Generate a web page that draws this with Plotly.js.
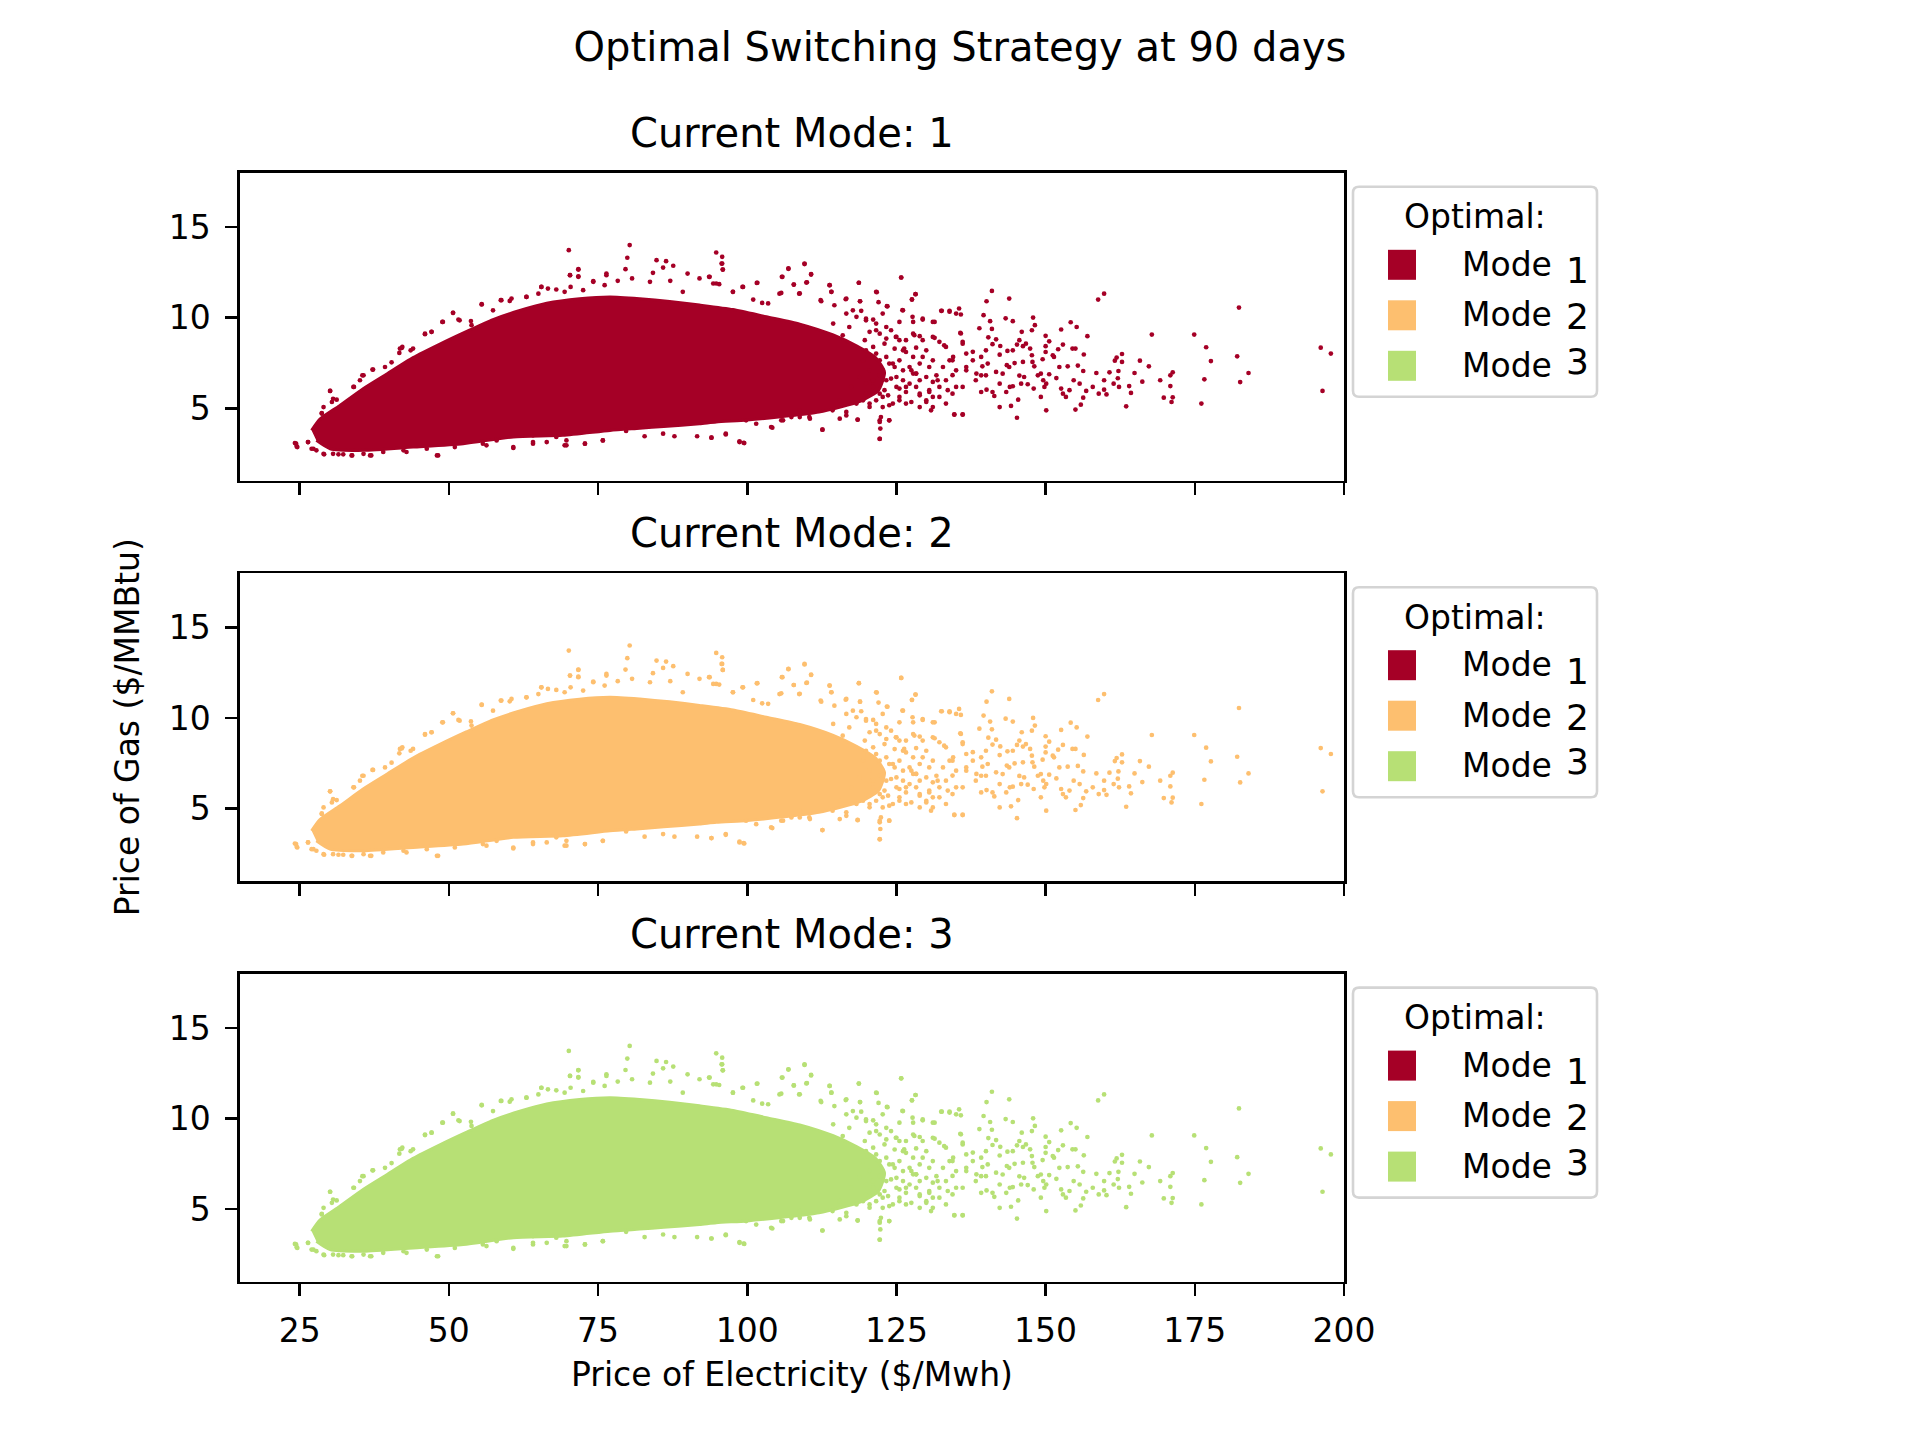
<!DOCTYPE html>
<html>
<head>
<meta charset="utf-8">
<script src="https://cdn.plot.ly/plotly-3.0.1.min.js"></script>
<style>html,body{margin:0;padding:0;background:#fff;}#chart{width:1920px;height:1440px;}</style>
</head>
<body>
<div id="chart"></div>
<script>
// ---------- data ----------
const modeNames = ['1', '2', '3'];
const modeColors = ['#a50026', '#fdbf6f', '#b7e075'];
const subplotTitles = ['Current Mode: 1', 'Current Mode: 2', 'Current Mode: 3'];
const xTickVals = [25, 50, 75, 100, 125, 150, 175, 200];
const yTickVals = [5, 10, 15];

// outline of the visually solid core of the price cloud ($/Mwh, $/MMBtu)
const coreElec = [27.0, 28.4, 31.7, 35.7, 39.6, 44.0, 48.5, 53.0, 57.4, 61.9, 66.4, 71.9, 77.0, 82.0, 87.0, 92.0, 97.6, 103.2, 108.8, 114.4, 118.3, 121.5, 123.0,
  122.0, 119.0, 112.0, 106.0, 100.0, 94.8, 92.0, 86.0, 82.0, 77.0, 69.1, 60.8, 52.4, 44.0, 35.7, 30.1, 27.8];
const coreGas = [3.78, 4.40, 5.15, 6.10, 6.90, 7.80, 8.55, 9.25, 9.90, 10.40, 10.80, 11.05, 11.15, 11.05, 10.90, 10.70, 10.45, 10.05, 9.65, 9.05, 8.45, 7.80, 7.00,
  6.00, 5.40, 4.80, 4.55, 4.35, 4.25, 4.15, 4.00, 3.90, 3.78, 3.51, 3.42, 3.05, 2.86, 2.68, 2.77, 3.23];

// individual scattered simulations outside the solid core
const pointElec = [
  24.4, 24.6, 26.4, 27.3, 27.8, 29.1, 30.1, 30.4, 28.7, 31.2, 31.5, 32.3, 33.8, 34.1, 35.1, 35.7, 37.2, 40.4, 41.7, 42.1,
  43.6, 46.0, 47.1, 49.0, 50.7, 51.6, 53.7, 55.5, 58.8, 60.5, 63.0, 65.5, 66.6, 70.1, 70.3, 71.7, 71.7, 70.4, 72.5, 74.2,
  60.8, 48.0, 37.0, 35.7, 39.0, 42.4, 46.3, 55.7, 64.1, 69.4, 69.7, 68.0, 72.8, 64.1, 58.0,
  80.3, 79.9, 79.6, 94.8, 95.8, 95.8, 95.9, 84.8, 86.4, 85.9, 87.6, 84.2, 90.0, 93.7, 109.6, 106.9, 110.7, 105.8, 110.0, 107.8,
  101.7, 113.8, 118.7, 125.8, 121.6, 128.2, 127.6, 135.5, 133.9, 132.6, 135.8, 129.4, 131.4, 127.7, 126.0, 123.4, 122.0, 118.9, 116.6, 114.1,
  112.3, 108.8, 105.7, 103.5, 102.5, 101.0, 99.3, 97.6, 94.8, 92.0, 87.1, 80.7, 76.4, 78.3, 83.7, 89.2,
  119.9, 121.6, 123.3, 124.9, 126.3, 128.0, 129.4, 131.1, 133.0, 134.4, 135.8, 136.1, 136.7, 137.8, 138.3, 136.1, 134.4, 133.6, 131.9, 130.5,
  130.0, 130.8, 128.9, 127.5, 126.6, 125.5, 123.8, 122.7, 122.2, 122.3, 122.2, 123.8, 120.5, 118.5, 116.6, 115.5, 114.3, 112.6, 110.4, 108.8,
  107.4, 105.7, 104.2, 101.5, 99.8, 98.7, 99.4, 96.4, 94.0, 91.6, 87.8, 85.9, 82.8, 79.7, 75.8, 136.1, 134.7, 128.3, 124.4, 121.0,
  158.8, 159.8, 182.4, 196.1, 197.8, 196.4, 167.8, 174.9, 176.9, 177.7, 182.1, 184.0, 182.6, 176.6, 176.1, 171.1, 171.3, 169.8, 170.9, 170.9,
  171.3, 169.2, 167.3, 165.8, 166.2, 164.9, 164.3, 164.0, 163.5, 162.8, 162.8, 161.9, 161.6, 162.2, 162.1, 161.4, 162.3, 160.7, 159.8, 160.2,
  158.9, 159.8, 158.5, 157.9, 157.0, 156.4, 156.3, 156.8, 156.3, 155.9, 155.0, 155.4, 155.0, 154.5, 155.2, 154.2, 152.6, 152.9, 152.1, 151.4,
  150.6, 150.0, 150.0, 150.0, 149.5, 148.2, 147.9, 147.7, 146.0, 145.6, 144.5, 143.3, 140.7, 141.0, 139.6, 138.9, 140.4, 141.7, 142.4, 143.6,
  144.5, 145.2, 146.2, 146.7, 147.4, 147.7, 147.8, 146.2, 144.8, 143.9, 142.3, 141.1, 140.0, 139.2, 140.3, 139.4, 141.7, 140.0, 139.2, 142.8,
  143.5, 145.6, 146.4, 148.1, 148.7, 149.2, 149.6, 150.1, 150.6, 151.8, 152.6, 152.9, 153.4, 154.0, 154.7, 155.7, 152.3, 151.2, 153.7, 150.1,
  149.8, 149.2, 148.0, 147.0, 145.9, 144.5, 144.0, 143.4, 142.3, 141.1, 141.4, 140.1, 139.2, 142.3, 144.2, 145.4, 145.2,
  141.0, 140.1, 143.9,
  95.7, 95.9, 106.9, 109.6, 110.7, 105.9, 107.8, 109.9, 113.8, 118.7, 125.8, 121.7, 128.2, 127.6, 114.1, 112.4, 108.7, 105.4, 101.6, 99.2,
  97.6, 95.3, 94.3, 93.6, 118.9, 116.5, 114.6, 117.7, 119.1, 121.1, 122.7, 123.5, 126.1, 125.5, 127.8, 129.4, 131.1, 132.5, 133.9, 135.0,
  135.7, 131.4, 128.9, 126.6, 125.0, 124.1, 122.2, 120.5, 123.0, 124.7, 126.6, 128.3, 130.0, 132.2, 133.3, 134.5, 136.1, 136.7, 137.8, 131.1,
  128.9, 127.2, 125.5, 123.8, 122.2, 120.5, 122.2, 124.1, 126.1, 127.8, 130.0, 131.7, 133.3, 135.0, 136.7, 138.4, 132.2, 130.5, 128.3, 126.6,
  125.0, 123.0, 121.1, 119.9, 121.6, 123.6, 125.5, 127.5, 128.9, 131.1, 133.3, 134.7, 136.1, 122.4, 122.2, 122.2, 123.8, 118.5, 116.6, 115.5,
  112.6, 110.5, 108.8, 106.0, 104.0, 98.7, 99.5, 96.4, 94.0, 118.3, 117.4, 118.8, 119.9, 119.7, 117.1, 116.0, 114.4,
  30.1, 30.6, 28.7, 29.0, 34.0, 35.5, 37.3, 39.3, 41.8, 42.2, 44.0, 46.0, 47.1, 48.9, 50.7, 51.8, 53.8, 55.5, 57.4, 58.7,
  60.2, 63.0, 65.0, 65.5, 68.0, 69.4, 70.3, 71.7, 71.7, 74.2, 76.1, 76.4, 24.2, 24.5, 26.4, 27.0, 29.0, 30.6, 33.7, 36.8,
  42.9, 48.2, 51.0, 60.8, 64.1, 69.7, 72.8, 75.8, 66.4, 56.3,
  119.4, 120.2, 121.1, 121.6, 123.3, 124.7, 126.1, 128.3, 122.7, 123.3, 125.0, 121.1, 119.9, 119.4, 120.5, 122.7, 124.4, 126.6, 128.9, 131.1,
  130.0, 132.2, 134.4, 135.0, 131.1, 128.9, 127.2, 125.5, 122.2, 133.9, 132.8, 130.5, 129.4, 127.8, 126.1, 125.5, 127.8, 123.3, 121.6, 119.9,
  118.3, 116.6
];
const pointGas = [
  3.05, 2.86, 3.14, 2.77, 2.68, 2.46, 5.96, 5.35, 4.71, 5.48, 2.46, 2.46, 2.40, 6.18, 6.55, 6.82, 7.14, 7.54, 8.06, 8.33,
  8.20, 9.12, 9.22, 9.77, 10.27, 9.90, 9.82, 10.75, 10.97, 11.06, 11.15, 11.70, 11.61, 13.73, 12.35, 12.68, 12.26, 11.70, 11.52, 12.02,
  2.81, 2.40, 2.40, 2.49, 2.59, 2.68, 2.77, 3.05, 3.05, 2.96, 3.23, 3.42, 3.05, 3.51, 3.23,
  14.01, 13.31, 12.68, 13.60, 13.36, 12.99, 12.66, 13.18, 13.12, 12.77, 12.87, 12.48, 12.44, 12.26, 12.99, 12.70, 12.41, 12.26, 11.96, 11.83,
  11.93, 11.80, 11.93, 12.22, 11.43, 11.30, 11.01, 10.51, 10.33, 10.38, 10.18, 9.90, 9.77, 10.05, 10.42, 10.64, 10.86, 10.91, 11.06, 11.43,
  10.97, 11.34, 11.37, 10.79, 10.82, 11.00, 11.70, 11.43, 11.89, 12.17, 12.04, 12.17, 12.44, 12.04, 11.98, 11.43,
  9.86, 9.31, 8.85, 8.94, 8.30, 9.04, 8.76, 8.94, 8.48, 7.65, 9.13, 8.57, 7.10, 8.12, 6.55, 6.18, 6.83, 6.00, 6.55, 6.00,
  5.35, 4.89, 5.81, 7.10, 6.18, 5.44, 5.17, 5.63, 4.34, 3.88, 3.31, 4.34, 5.08, 4.38, 4.80, 5.44, 4.89, 3.82, 4.52, 4.89,
  4.52, 4.34, 3.93, 4.15, 4.34, 3.18, 3.10, 3.60, 3.38, 3.46, 3.46, 3.60, 3.46, 3.75, 3.23, 4.65, 4.65, 6.92, 7.47, 6.55,
  11.00, 11.33, 10.56, 8.35, 8.02, 5.96, 9.07, 9.07, 8.37, 7.61, 7.87, 6.95, 6.45, 6.60, 5.26, 5.35, 5.61, 5.59, 6.23, 6.82,
  6.99, 6.55, 7.32, 7.63, 6.47, 6.95, 5.85, 6.23, 5.11, 8.00, 7.56, 7.80, 7.63, 7.06, 6.66, 6.36, 6.18, 6.99, 6.55, 5.77,
  5.81, 6.03, 6.95, 6.18, 8.98, 7.97, 7.06, 5.96, 5.59, 5.20, 4.93, 7.36, 8.30, 8.30, 9.49, 9.75, 9.35, 8.52, 8.26, 7.84,
  8.70, 9.00, 8.43, 8.11, 7.71, 9.59, 10.01, 9.31, 9.22, 8.76, 9.81, 9.97, 9.81, 9.38, 10.14, 9.42, 8.92, 8.81, 8.44, 8.17,
  8.20, 8.52, 8.43, 8.57, 8.30, 7.93, 7.56, 7.56, 7.50, 7.28, 7.96, 8.54, 8.20, 7.84, 7.47, 7.32, 7.01, 6.82, 6.82, 6.91,
  7.38, 6.81, 6.73, 7.32, 6.82, 6.91, 6.55, 6.36, 6.88, 6.67, 6.09, 5.81, 5.63, 6.00, 6.55, 6.36, 7.28, 7.93, 7.32, 4.89,
  6.18, 5.63, 6.09, 6.33, 6.36, 6.22, 6.18, 5.90, 6.36, 5.90, 5.68, 6.03, 5.90, 5.07, 5.13, 5.48, 4.48,
  11.48, 10.91, 11.06,
  12.99, 12.66, 12.72, 12.96, 12.38, 12.26, 11.83, 11.94, 11.80, 11.93, 12.22, 11.41, 11.30, 11.00, 11.43, 10.91, 11.33, 11.33, 11.92, 11.70,
  11.43, 11.85, 11.89, 12.26, 10.91, 11.02, 10.69, 10.41, 10.38, 9.90, 10.23, 10.63, 10.41, 9.77, 9.77, 9.95, 9.77, 10.38, 10.38, 10.23,
  9.16, 8.89, 8.98, 8.76, 8.94, 9.31, 9.12, 9.22, 8.57, 8.29, 8.11, 8.35, 8.20, 8.67, 8.39, 7.84, 8.67, 8.02, 7.65, 7.65,
  7.47, 7.28, 7.65, 7.47, 7.65, 7.10, 6.82, 6.64, 6.55, 6.92, 6.73, 6.82, 6.55, 7.10, 7.28, 6.92, 6.18, 5.90, 6.18, 5.90,
  6.18, 6.00, 6.18, 5.81, 5.44, 5.72, 5.63, 5.35, 5.72, 5.63, 5.26, 4.67, 4.67, 4.52, 4.25, 3.32, 4.34, 4.37, 4.61, 4.43,
  3.82, 4.43, 4.52, 4.34, 3.97, 3.14, 3.08, 3.56, 3.38, 5.26, 6.18, 6.73, 8.20, 8.76, 9.49, 9.03, 9.68,
  5.96, 5.53, 4.74, 5.07, 6.18, 6.82, 7.14, 7.28, 8.30, 8.39, 8.30, 9.09, 9.22, 9.77, 10.27, 9.86, 9.59, 10.73, 10.41, 10.97,
  10.93, 11.15, 11.33, 11.70, 11.56, 11.43, 12.35, 12.66, 12.29, 11.98, 11.80, 12.35, 3.08, 2.90, 3.14, 2.77, 2.49, 2.49, 2.40, 2.40,
  2.59, 2.40, 2.86, 2.86, 3.14, 2.96, 3.05, 3.23, 3.14, 2.96,
  7.65, 7.93, 8.39, 8.02, 7.84, 7.28, 7.10, 6.92, 7.10, 6.55, 6.73, 6.55, 6.36, 5.44, 5.26, 5.07, 5.26, 5.26, 5.07, 5.07,
  5.44, 5.63, 5.81, 6.18, 6.46, 6.55, 6.36, 6.09, 5.81, 7.65, 7.28, 7.28, 7.84, 7.84, 8.20, 8.76, 9.12, 9.49, 9.68, 9.95,
  10.05, 10.23
];

// ---------- layout geometry ----------
const W = 1920, H = 1440;
const FONT = 'DejaVu Sans, Verdana, sans-serif';
const xDom = [0.125, 0.7];
const panelH = 0.77 / 3.6, gap = panelH * 0.3;
const yDoms = [
  [0.88 - panelH, 0.88],
  [0.88 - 2 * panelH - gap, 0.88 - panelH - gap],
  [0.11, 0.11 + panelH]
];

const traces = [];
const shapes = [];
const annotations = [];
const layout = {
  width: W, height: H,
  margin: {l: 0, r: 0, t: 0, b: 0, pad: 0},
  paper_bgcolor: '#ffffff', plot_bgcolor: '#ffffff',
  font: {family: FONT, size: 33, color: '#000'},
  showlegend: false,
  title: {text: 'Optimal Switching Strategy at 90 days', x: 0.5, xanchor: 'center',
          y: 1 - 47 / H, yanchor: 'middle', yref: 'container', font: {family: FONT, size: 40, color: '#000'}}
};

const px2x = p => p / W;
const px2y = p => 1 - p / H;

for (let i = 0; i < 3; i++) {
  const ax = i === 0 ? '' : String(i + 1);
  const xa = 'x' + ax, ya = 'y' + ax;
  const color = modeColors[i];
  traces.push({
    type: 'scatter', mode: 'lines', x: coreElec, y: coreGas, xaxis: xa, yaxis: ya,
    fill: 'toself', fillcolor: color, line: {color: color, width: 3, shape: 'spline', smoothing: 0.6}, hoverinfo: 'skip',
    name: 'Mode ' + modeNames[i] + ' core', showlegend: false
  });
  traces.push({
    type: 'scatter', mode: 'markers', x: pointElec, y: pointGas, xaxis: xa, yaxis: ya,
    marker: {color: color, size: 4.7, line: {width: 0}},
    name: 'Mode ' + modeNames[i], showlegend: false
  });
  const common = {
    showline: true, linecolor: '#000', linewidth: 2.6, mirror: true,
    showgrid: false, zeroline: false,
    ticks: 'outside', ticklen: 12, tickwidth: 2.6, tickcolor: '#000',
    tickfont: {family: FONT, size: 33, color: '#000'}
  };
  layout['xaxis' + ax] = Object.assign({}, common, {
    domain: xDom, range: [15, 200], tickmode: 'array', tickvals: xTickVals,
    showticklabels: i === 2, anchor: ya,
    ticklabelstandoff: 6,
    title: i === 2 ? {text: 'Price of Electricity ($/Mwh)', font: {family: FONT, size: 33, color: '#000'}, standoff: 14} : {text: ''}
  });
  layout['yaxis' + ax] = Object.assign({}, common, {
    domain: yDoms[i], range: [1, 18], tickmode: 'array', tickvals: yTickVals,
    anchor: xa, ticklabelstandoff: 8,
    title: i === 1 ? {text: 'Price of Gas ($/MMBtu)', font: {family: FONT, size: 33, color: '#000'}, standoff: 20} : {text: ''}
  });

  // subplot title
  const T = (1 - yDoms[i][1]) * H; // axes top in px
  annotations.push({
    text: subplotTitles[i], xref: 'paper', yref: 'paper',
    x: (xDom[0] + xDom[1]) / 2, y: px2y(T - 40), xanchor: 'center', yanchor: 'middle',
    showarrow: false, font: {family: FONT, size: 40, color: '#000'}
  });

  // legend box (drawn like the reference's legend)
  const L = 1353, R = 1597, B0 = T + 14, B1 = T + 224, r = 6;
  const X = v => px2x(v), Y = v => px2y(v);
  shapes.push({
    type: 'path', xref: 'paper', yref: 'paper',
    path: `M ${X(L + r)} ${Y(B0)} L ${X(R - r)} ${Y(B0)} Q ${X(R)} ${Y(B0)} ${X(R)} ${Y(B0 + r)} ` +
          `L ${X(R)} ${Y(B1 - r)} Q ${X(R)} ${Y(B1)} ${X(R - r)} ${Y(B1)} L ${X(L + r)} ${Y(B1)} ` +
          `Q ${X(L)} ${Y(B1)} ${X(L)} ${Y(B1 - r)} L ${X(L)} ${Y(B0 + r)} Q ${X(L)} ${Y(B0)} ${X(L + r)} ${Y(B0)} Z`,
    line: {color: '#d4d4d4', width: 2.6}, fillcolor: 'rgba(255,255,255,0.8)'
  });
  annotations.push({
    text: 'Optimal:', xref: 'paper', yref: 'paper', x: X(1475), y: Y(T + 44),
    xanchor: 'center', yanchor: 'middle', showarrow: false,
    font: {family: FONT, size: 33, color: '#000'}
  });
  const numOffsets = [6, 1.5, -4.5];
  for (let j = 0; j < 3; j++) {
    const cy = T + 92 + 50.5 * j;
    shapes.push({
      type: 'rect', xref: 'paper', yref: 'paper',
      x0: X(1388), x1: X(1416), y0: Y(cy - 15), y1: Y(cy + 15),
      fillcolor: modeColors[j], line: {width: 0}
    });
    annotations.push({
      text: 'Mode', xref: 'paper', yref: 'paper', x: X(1460), y: Y(cy - 0.5),
      xanchor: 'left', yanchor: 'middle', showarrow: false,
      font: {family: FONT, size: 33, color: '#000'}
    });
    annotations.push({
      text: modeNames[j], xref: 'paper', yref: 'paper', x: X(1577), y: Y(cy + numOffsets[j]),
      xanchor: 'center', yanchor: 'middle', showarrow: false,
      font: {family: FONT, size: 36, color: '#000'}
    });
  }
}
layout.shapes = shapes;
layout.annotations = annotations;

Plotly.newPlot('chart', traces, layout, {staticPlot: true, displayModeBar: false});
</script>
</body>
</html>
